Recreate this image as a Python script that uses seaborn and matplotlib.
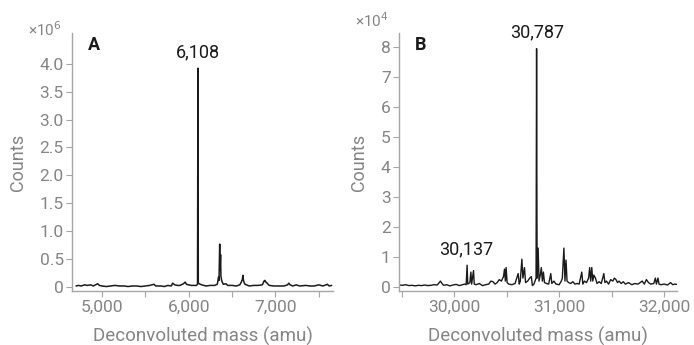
import numpy as np
import pandas as pd
import matplotlib
matplotlib.use("Agg")
import matplotlib.pyplot as plt
import matplotlib.ticker as mticker
import seaborn as sns

# ---------------- data ----------------
# Panel A: deconvoluted mass (amu) and counts (x10^6)
mass_a = [4700, 4730, 4760, 4800, 4830, 4870, 4900, 4950, 4970, 5000, 5050, 5100,
          5150, 5200, 5260, 5300, 5350, 5400, 5450, 5500, 5550, 5600, 5620, 5680,
          5720, 5760, 5800, 5815, 5840, 5870, 5900, 5940, 5960, 5975, 6000, 6030,
          6060, 6090, 6102, 6107, 6111, 6120, 6150, 6200, 6250, 6300, 6330, 6345,
          6350, 6358, 6362, 6368, 6372, 6380, 6390, 6400, 6430, 6450, 6500, 6550,
          6590, 6610, 6620, 6625, 6632, 6640, 6650, 6700, 6750, 6800, 6850, 6870,
          6880, 6890, 6900, 6910, 6930, 6980, 7050, 7100, 7140, 7155, 7170, 7200,
          7240, 7280, 7350, 7400, 7450, 7500, 7550, 7600, 7620, 7650]
counts_a_e6 = [0.02, 0.03, 0.02, 0.04, 0.03, 0.04, 0.02, 0.06, 0.03, 0.02, 0.01, 0.02,
               0.03, 0.02, 0.02, 0.01, 0.02, 0.02, 0.01, 0.02, 0.03, 0.05, 0.02, 0.02,
               0.01, 0.03, 0.02, 0.07, 0.04, 0.03, 0.03, 0.06, 0.09, 0.05, 0.04, 0.03,
               0.03, 0.03, 0.05, 3.92, 0.08, 0.06, 0.04, 0.02, 0.03, 0.03, 0.05, 0.18,
               0.12, 0.77, 0.30, 0.58, 0.20, 0.12, 0.08, 0.05, 0.06, 0.03, 0.03, 0.02,
               0.04, 0.10, 0.14, 0.21, 0.12, 0.08, 0.05, 0.02, 0.03, 0.03, 0.04, 0.11,
               0.12, 0.09, 0.08, 0.06, 0.03, 0.02, 0.02, 0.02, 0.04, 0.07, 0.04, 0.02,
               0.04, 0.02, 0.03, 0.02, 0.02, 0.04, 0.02, 0.05, 0.02, 0.03]

# Panel B: deconvoluted mass (amu) and counts (x10^4)
mass_b = [29480, 29510, 29540, 29570, 29600, 29630, 29660, 29690, 29720, 29750,
          29780, 29810, 29840, 29870, 29885, 29900, 29930, 29960, 29990, 30020,
          30050, 30080, 30100, 30115, 30124, 30130, 30150, 30160, 30167, 30185,
          30192, 30210, 30240, 30270, 30300, 30330, 30350, 30370, 30390, 30410,
          30430, 30450, 30470, 30480, 30488, 30495, 30505, 30520, 30550, 30580,
          30610, 30620, 30630, 30645, 30655, 30670, 30680, 30700, 30720, 30735,
          30745, 30760, 30780, 30785, 30790, 30800, 30808, 30820, 30830, 30840,
          30850, 30860, 30880, 30900, 30920, 30930, 30950, 30970, 31000, 31020,
          31030, 31045, 31055, 31065, 31075, 31090, 31110, 31130, 31150, 31170,
          31190, 31215, 31225, 31240, 31260, 31280, 31290, 31300, 31310, 31320,
          31330, 31345, 31360, 31380, 31400, 31425, 31435, 31450, 31470, 31490,
          31510, 31525, 31540, 31555, 31570, 31590, 31610, 31630, 31660, 31690,
          31720, 31750, 31770, 31790, 31810, 31830, 31850, 31870, 31900, 31915,
          31925, 31940, 31950, 31970, 32000, 32030, 32060, 32080, 32100, 32120]
counts_b_e4 = [0.07, 0.06, 0.08, 0.05, 0.06, 0.04, 0.06, 0.05, 0.07, 0.05,
               0.06, 0.08, 0.07, 0.20, 0.12, 0.06, 0.08, 0.04, 0.07, 0.09,
               0.05, 0.08, 0.10, 0.08, 0.73, 0.10, 0.15, 0.50, 0.10, 0.55,
               0.10, 0.08, 0.12, 0.05, 0.08, 0.10, 0.20, 0.18, 0.10, 0.15,
               0.25, 0.20, 0.35, 0.60, 0.20, 0.65, 0.15, 0.10, 0.08, 0.12,
               0.45, 0.10, 0.20, 0.93, 0.30, 0.65, 0.15, 0.20, 0.30, 0.35,
               0.05, 0.10, 0.30, 7.95, 0.30, 1.30, 0.20, 0.40, 0.65, 0.20,
               0.50, 0.15, 0.12, 0.10, 0.45, 0.12, 0.20, 0.10, 0.08, 0.20,
               0.30, 1.30, 0.20, 0.90, 0.20, 0.15, 0.12, 0.18, 0.10, 0.12,
               0.10, 0.50, 0.10, 0.20, 0.15, 0.30, 0.65, 0.20, 0.65, 0.20,
               0.40, 0.30, 0.12, 0.18, 0.12, 0.45, 0.15, 0.20, 0.10, 0.25,
               0.20, 0.30, 0.25, 0.15, 0.20, 0.12, 0.18, 0.10, 0.15, 0.08,
               0.12, 0.10, 0.15, 0.20, 0.10, 0.25, 0.15, 0.10, 0.12, 0.30,
               0.10, 0.30, 0.10, 0.08, 0.10, 0.07, 0.15, 0.08, 0.10, 0.09]

labels_a = [(6108, 3.92, "6,108")]
labels_b = [(30787, 7.95, "30,787"), (30114, 0.73, "30,137")]

xticks_a = [5000, 6000, 7000]
yticks_a = [0, 0.5, 1.0, 1.5, 2.0, 2.5, 3.0, 3.5, 4.0]
xticks_b = [30000, 31000, 32000]
yticks_b = [0, 1, 2, 3, 4, 5, 6, 7, 8]

# ---------------- styling ----------------
sns.set_theme(style="ticks")
plt.rcParams["font.family"] = ["Roboto", "DejaVu Sans"]

GRAY = "#858585"
SPINE = "#a6a6a6"
LINE = "#1a1a1a"

fig = plt.figure(figsize=(6.94, 3.45), dpi=100)
ax_a = fig.add_axes([72 / 694, 1 - 291 / 345, 261 / 694, 258 / 345])
ax_b = fig.add_axes([399 / 694, 1 - 291 / 345, 278 / 694, 258 / 345])

df_a = pd.DataFrame({"mass": mass_a, "counts": counts_a_e6})
df_b = pd.DataFrame({"mass": mass_b, "counts": counts_b_e4})

sns.lineplot(data=df_a, x="mass", y="counts", ax=ax_a, color=LINE, linewidth=1.1,
             sort=False, estimator=None)
sns.lineplot(data=df_b, x="mass", y="counts", ax=ax_b, color=LINE, linewidth=1.0,
             sort=False, estimator=None)


def zero_fmt(v, pos):
    if abs(v) < 1e-9:
        return "0"
    return f"{v:.1f}"


def style_axis(ax, xlim, ylim, xticks, yticks, yfmt, minor_step):
    ax.set_xlim(*xlim)
    ax.set_ylim(*ylim)
    ax.set_xticks(xticks)
    ax.set_yticks(yticks)
    ax.xaxis.set_minor_locator(mticker.MultipleLocator(minor_step))
    ax.xaxis.set_major_formatter(mticker.FuncFormatter(lambda v, p: f"{int(v):,}"))
    ax.yaxis.set_major_formatter(mticker.FuncFormatter(yfmt))
    sns.despine(ax=ax)
    for s in ("left", "bottom"):
        ax.spines[s].set_color(SPINE)
        ax.spines[s].set_linewidth(1.0)
    ax.tick_params(axis="both", which="both", colors=SPINE, labelcolor=GRAY,
                   labelsize=12.5, length=4, width=0.8, pad=2)
    ax.tick_params(axis="x", which="minor", length=4)
    ax.set_xlabel("Deconvoluted mass (amu)", color=GRAY, fontsize=13.5, labelpad=9)
    ax.set_ylabel("Counts", color=GRAY, fontsize=13, labelpad=9)


style_axis(ax_a, (4654, 7665), (-0.07, 4.55), xticks_a, yticks_a, zero_fmt, 500)
style_axis(ax_b, (29476, 32121), (-0.13, 8.47), xticks_b, yticks_b,
           lambda v, p: f"{int(round(v))}", 500)

for m, c, t in labels_a:
    ax_a.annotate(t, (m, c), xytext=(0, 5), textcoords="offset points",
                  ha="center", va="bottom", fontsize=13, color="#1a1a1a")
for m, c, t in labels_b:
    ax_b.annotate(t, (m, c), xytext=(0, 5), textcoords="offset points",
                  ha="center", va="bottom", fontsize=13, color="#1a1a1a")

ax_a.text(0.084, 0.953, "A", transform=ax_a.transAxes, ha="center", va="center",
          fontsize=13, fontweight="bold", color="#1a1a1a")
ax_b.text(0.076, 0.953, "B", transform=ax_b.transAxes, ha="center", va="center",
          fontsize=13, fontweight="bold", color="#1a1a1a")

fig.text(45 / 694, 1 - 30 / 345, "×10$^{6}$", ha="center", va="center",
         fontsize=11, color=GRAY)
fig.text(372 / 694, 1 - 21 / 345, "×10$^{4}$", ha="center", va="center",
         fontsize=11, color=GRAY)

fig.savefig("out.png", dpi=100)
